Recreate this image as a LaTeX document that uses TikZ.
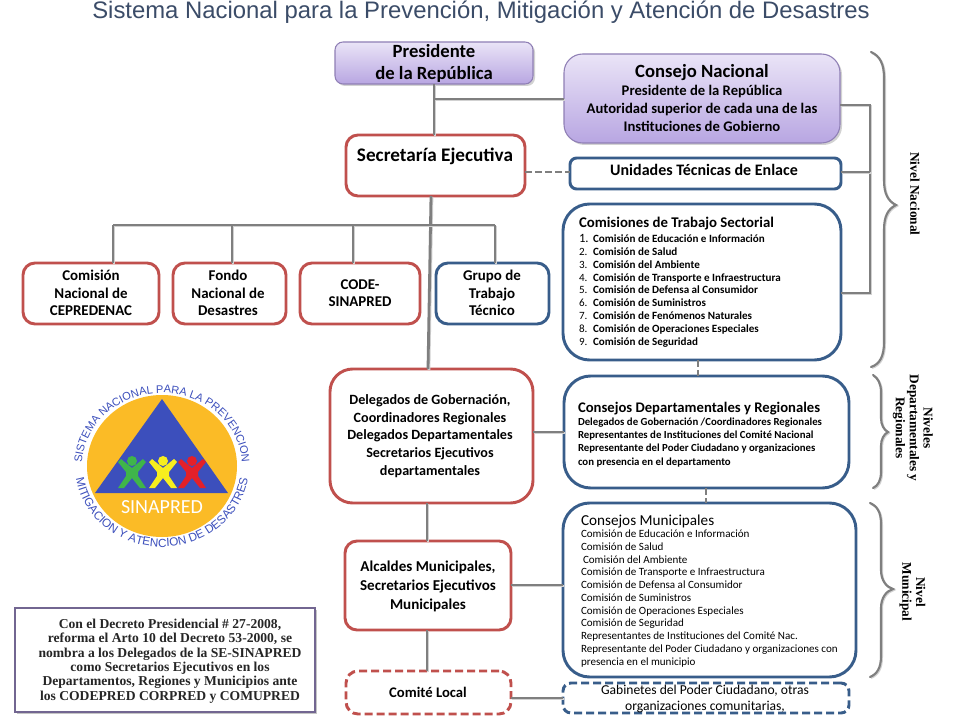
\documentclass[tikz,border=0pt]{standalone}
\usepackage{fontspec}
\setmainfont{Carlito}
\newfontfamily\serifb{Liberation Serif}
\newfontfamily\titlef{Liberation Sans}
\usetikzlibrary{shadows,decorations.text,calc}
\definecolor{redb}{HTML}{C0504D}
\definecolor{blueb}{HTML}{385D8A}
\definecolor{conn}{HTML}{7F7F7F}
\definecolor{purb}{HTML}{8F7FB5}
\definecolor{purtop}{HTML}{EAE4F7}
\definecolor{purbot}{HTML}{B8A6E2}
\definecolor{titlec}{HTML}{3B4C68}
\definecolor{logoy}{HTML}{FBBB26}
\definecolor{logob}{HTML}{3C4FBC}
\definecolor{figg}{HTML}{3FB54A}
\definecolor{figy}{HTML}{F7EE1E}
\definecolor{figr}{HTML}{E3202A}
\newcommand\fz[2]{\fontsize{#1}{#2}\selectfont}
\tikzset{
  x=0.75pt,y=-0.75pt,
  every node/.style={inner sep=0pt,outer sep=0pt},
  redbox/.style={draw=redb,line width=2.2pt,fill=white,rounded corners=9pt},
  bluebox/.style={draw=blueb,line width=2.2pt,fill=white,rounded corners=9pt},
  bigred/.style={redbox,rounded corners=17pt},
  bigblue/.style={bluebox,rounded corners=20pt},
  dashred/.style={redbox,dashed,dash pattern=on 6pt off 3pt},
  dashblue/.style={bluebox,dashed,dash pattern=on 6pt off 3pt,rounded corners=6pt},
  purple box/.style={draw=purb,line width=.8pt,top color=purtop,bottom color=purbot,
     drop shadow={opacity=.35,shadow xshift=1.5pt,shadow yshift=-1.5pt}},
  notebox/.style={draw=purb!80!black,line width=.8pt,fill=white,drop shadow={opacity=.45,shadow xshift=1.5pt,shadow yshift=-1.5pt}},
  link/.style={draw=conn,line width=2.1pt,preaction={draw=black!18,line width=2.1pt,transform canvas={xshift=.7pt,yshift=-.7pt}}},
  dlink/.style={draw=conn,line width=2.1pt,dash pattern=on 5pt off 2.5pt},
  brace/.style={draw=conn,line width=1.6pt,line cap=round,preaction={draw=black!18,line width=1.6pt,transform canvas={xshift=.7pt,yshift=-.7pt}}},
  ctxt/.style={align=center,text=black},
  ltxt/.style={align=left,anchor=north west,text=black},
  rottxt/.style={align=center,rotate=-90,font=\serifb\bfseries\fz{10}{10.4}},
  notetxt/.style={align=center,font=\serifb\bfseries\fz{10.2}{10.8},text=black!85},
}
\newcommand\bx[6]{%
  \pgfmathsetmacro\bxw{(#5-#3)*.75}\pgfmathsetmacro\bxh{(#6-#4)*.75}%
  \node[#2,minimum width=\bxw pt,minimum height=\bxh pt] (#1) at ({(#3+#5)/2},{(#4+#6)/2}) {};}
\begin{document}
\begin{tikzpicture}
\useasboundingbox (0,0) rectangle (960,720);
\fill[white] (0,0) rectangle (960,720);
\node[font=\titlef\fz{17.9}{20},text=titlec] (title) at (481,12.5) {Sistema Nacional para la Prevención, Mitigación y Atención de Desastres};

% boxes
\bx{pres}{purple box,rounded corners=6pt}{335}{42}{533}{84}
\bx{cons}{purple box,rounded corners=14pt}{564}{54}{840}{143}
\bx{sec}{redbox}{346}{135}{525}{196}
\bx{unid}{bluebox,rounded corners=5pt}{570}{158}{841}{189}
\bx{com}{bigblue}{563}{204}{841}{360}
\bx{cepre}{redbox}{23}{263}{159}{324}
\bx{fondo}{redbox}{173}{263}{286}{324}
\bx{code}{redbox}{300}{263}{420}{324}
\bx{grupo}{bluebox}{436}{263}{549}{324}
\bx{del}{bigred}{330}{369}{533}{503}
\bx{cdep}{bigblue}{564}{376}{849}{488}
\bx{cmun}{bigblue}{563}{503}{856}{677}
\bx{alc}{redbox}{345}{541}{511}{630}
\bx{local}{dashred}{346}{671}{511}{714}
\bx{gab}{dashblue}{563}{683}{849}{713}
\bx{note}{notebox}{15}{608}{315}{712}

% connectors
\coordinate (jc) at (434,99);
\coordinate (d1) at (113,225);
\coordinate (d2) at (232,225);
\coordinate (d3) at (353,225);
\coordinate (d4) at (495,225);
\coordinate (s1) at (431,196);
\coordinate (s2) at (428,369);
\coordinate (br1) at (870,105);
\coordinate (br2) at (870,293);
\coordinate (dc1) at (698,360);
\coordinate (dc2) at (706,488);
\coordinate (dl) at (427,503);
\coordinate (cd) at (0,432);
\coordinate (cm) at (0,585);
\coordinate (cg) at (0,698);
\coordinate (sd) at (0,172);
\draw[link] (pres.south) -- (pres.south |- sec.north);
\draw[link] (pres.south |- jc) -- (jc -| cons.west);
\draw[dlink] (sd -| sec.east) -- (sd -| unid.west);
\draw[link] (s1 |- sec.south) -- (s2 |- del.north);
\draw[link] (d1) -- (d4);
\draw[link] (d1) -- (d1 |- cepre.north);
\draw[link] (d2) -- (d2 |- fondo.north);
\draw[link] (d3) -- (d3 |- code.north);
\draw[link] (d4) -- (d4 |- grupo.north);
\draw[link] (br1 -| cons.east) -- (br1) -- (br2) -- (br2 -| com.east);
\draw[link] (sd -| unid.east) -- (sd -| br1);
\draw[dlink] (dc1 |- com.south) -- (dc1 |- cdep.north);
\draw[dlink] (dc2 |- cdep.south) -- (dc2 |- cmun.north);
\draw[link] (cd -| del.east) -- (cd -| cdep.west);
\draw[link] (dl |- del.south) -- (dl |- alc.north);
\draw[link] (cm -| alc.east) -- (cm -| cmun.west);
\draw[link] (dl |- alc.south) -- (dl |- local.north);
\draw[link] (cg -| local.east) -- (cg -| gab.west);

% texts
\node[ctxt,font=\bfseries\fz{14}{16.5}] (tpres) at (434,63.5) {Presidente\\de la República};
\node[ctxt,font=\bfseries\fz{14}{14}] (tcons0) at (702,73) {Consejo Nacional};
\node[ctxt,font=\bfseries\fz{11}{13.6}] (tcons) at (702,108.5) {Presidente de la República\\Autoridad superior de cada una de las\\Instituciones de Gobierno};
\node[ctxt,font=\bfseries\fz{14.4}{14}] (tsec) at (435,156) {Secretaría Ejecutiva};
\node[ctxt,font=\bfseries\fz{12}{12}] (tunid) at (704,170) {Unidades Técnicas de Enlace};
\node[ctxt,font=\bfseries\fz{11.2}{13.2}] (tcepre) at (91,293) {Comisión\\Nacional de\\CEPREDENAC};
\node[ctxt,font=\bfseries\fz{11.2}{13.2}] (tfondo) at (228,293) {Fondo\\Nacional de\\Desastres};
\node[ctxt,font=\bfseries\fz{11.2}{13.2}] (tcode) at (360,293) {CODE-\\SINAPRED};
\node[ctxt,font=\bfseries\fz{11.2}{13.2}] (tgrupo) at (492,293) {Grupo de\\Trabajo\\ Técnico};
\node[ltxt,font=\bfseries\fz{11.1}{12}] (tcom0) at (579,217) {Comisiones de Trabajo Sectorial};
\node[ltxt,font=\fz{8.3}{9.6}] (tcom) at (579,234.5) {%
\makebox[10.5pt][l]{\fz{9.5}{9.6}1.}\textbf{Comisión de Educación e Información}\\
\makebox[10.5pt][l]{2.}\textbf{Comisión de Salud}\\
\makebox[10.5pt][l]{3.}\textbf{Comisión del Ambiente}\\
\makebox[10.5pt][l]{4.}\textbf{Comisión de Transporte e  Infraestructura}\\
\makebox[10.5pt][l]{5.}\textbf{Comisión de Defensa al Consumidor}\\
\makebox[10.5pt][l]{6.}\textbf{Comisión de Suministros}\\
\makebox[10.5pt][l]{7.}\textbf{Comisión de Fenómenos Naturales}\\
\makebox[10.5pt][l]{8.}\textbf{Comisión de Operaciones Especiales}\\
\makebox[10.5pt][l]{9.}\textbf{Comisión de Seguridad}};
\node[ctxt,font=\bfseries\fz{10.6}{13.2}] (tdel) at (430,436) {Delegados de Gobernación,\\Coordinadores Regionales\\Delegados  Departamentales\\Secretarios Ejecutivos\\departamentales};
\node[ltxt,font=\bfseries\fz{11}{12}] (tcdep0) at (578,402) {Consejos Departamentales y Regionales};
\node[ltxt,font=\bfseries\fz{8.1}{10}] (tcdep) at (578,417.5) {Delegados de Gobernación /Coordinadores Regionales\\Representantes de Instituciones del Comité Nacional\\Representante del  Poder Ciudadano y organizaciones\\con presencia en el departamento};
\node[ltxt,font=\fz{11.4}{12}] (tcmun0) at (581,515) {Consejos Municipales};
\node[ltxt,font=\fz{8.3}{9.55}] (tcmun) at (581,530) {Comisión de Educación e Información\\Comisión de Salud\\\hspace{1.5pt}Comisión del Ambiente\\Comisión de Transporte e  Infraestructura\\Comisión de Defensa al Consumidor\\Comisión de Suministros\\Comisión de Operaciones Especiales\\Comisión de Seguridad\\Representantes de Instituciones del Comité Nac.\\Representante del  Poder Ciudadano y organizaciones con\\presencia en el  municipio};
\node[ctxt,font=\bfseries\fz{11.3}{14.2}] (talc) at (428,586) {Alcaldes Municipales,\\Secretarios Ejecutivos\\Municipales};
\node[ctxt,font=\bfseries\fz{11}{12}] (tlocal) at (428,692) {Comité Local};
\node[ctxt,font=\fz{10.2}{12}] (tgab) at (705,698.5) {Gabinetes del Poder Ciudadano,  otras\\organizaciones  comunitarias,};
\node[notetxt] (tnote) at (170,661) {Con el Decreto  Presidencial  \# 27-2008,\\reforma el Arto 10 del Decreto 53-2000, se\\nombra a los Delegados de la SE-SINAPRED\\como Secretarios Ejecutivos  en los\\Departamentos, Regiones y Municipios  ante\\los CODEPRED CORPRED y COMUPRED};

% braces
\draw[brace] (871,52) .. controls (880,56) and (884,64) .. (884,78) -- (884,180) .. controls (884,194) and (888,201) .. (896,205) .. controls (888,209) and (884,216) .. (884,230) -- (884,342) .. controls (884,356) and (880,364) .. (871,367);
\draw[brace] (873,375) .. controls (878,378) and (881,384) .. (881,392) -- (881,418) .. controls (881,425) and (884,430) .. (888,432) .. controls (884,434) and (881,439) .. (881,446) -- (881,472) .. controls (881,480) and (878,486) .. (873,488);
\draw[brace] (870,503) .. controls (877,506) and (881,512) .. (881,524) -- (881,570) .. controls (881,580) and (886,587) .. (893,589) .. controls (886,591) and (881,598) .. (881,608) -- (881,656) .. controls (881,668) and (877,674) .. (870,677);
\node[rottxt] (nn) at (915,194) {Nivel Nacional};
\node[rottxt] (nd) at (913,428) {Niveles\\Departamentales y\\Regionales};
\node[rottxt] (nm) at (912.5,592) {Nivel\\Municipal};

% logo
\fill[logoy] (162,466) ellipse [x radius=75,y radius=71];
\fill[logob] (162,399) -- (228,493) -- (95,493) -- cycle;
\foreach \cx/\cc in {132/figg,163/figy,192/figr}{
  \fill[\cc] (\cx,461) circle [radius=5];
  \fill[\cc,shift={(\cx,0)}] (-14,462) -- (-11,459) -- (0,468) -- (11,459) -- (14,462) -- (6,472) -- (6,476) -- (14,488) -- (8,488) -- (0,478) -- (-8,488) -- (-14,488) -- (-6,476) -- (-6,472) -- cycle;
}
\node[font=\fz{15}{16},text=white] (sinap) at (162,507) {SINAPRED};
\begin{scope}[shift={(162,466)},yscale=-1]
\path[decorate,decoration={text along path,text align=center,text color=logob,
  text={|\titlef\fz{8.3}{9}|SISTEMA NACIONAL PARA LA PREVENCION}}]
  (-80,0) arc [start angle=180,end angle=0,x radius=80,y radius=73];
\path[decorate,decoration={text along path,text align=center,text color=logob,
  text={|\titlef\fz{8.8}{9}|MITIGACION Y ATENCION DE DESASTRES}}]
  (-87,0) arc [start angle=180,end angle=360,x radius=87,y radius=81];
\end{scope}
\end{tikzpicture}
\end{document}
